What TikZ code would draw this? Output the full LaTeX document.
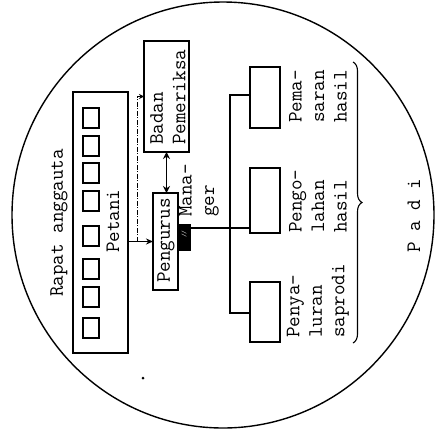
\documentclass[tikz,border=0pt]{standalone}
\usepackage{fontspec}
\usetikzlibrary{decorations.pathreplacing,arrows.meta}
\begin{document}
\begin{tikzpicture}[x=1pt,y=-1pt,
  box/.style={draw,line width=1.1pt,inner sep=0pt,outer sep=0pt},
  sq/.style={draw,line width=1.1pt,inner sep=0pt,outer sep=0pt,minimum width=16pt,minimum height=20pt},
  lbl/.style={rotate=90,anchor=west,inner sep=0pt,align=left,
    font=\ttfamily\addfontfeatures{FakeBold=3}\fontsize{20.5}{22.5}\selectfont},
  conn/.style={line width=1.1pt}
]
\useasboundingbox (0,0) rectangle (436,429);
% outer circle
\draw[line width=1.4pt] (223,215) ellipse [x radius=211, y radius=213];
% boxes
\node[box,minimum width=55pt,minimum height=261pt] (rapat) at (100.5,222.5) {};
\foreach \i/\yy in {1/118,2/146,3/173,4/201,5/236,6/269,7/297,8/328}
  \node[sq] (sq\i) at (91,\yy) {};
\node[box,minimum width=45pt,minimum height=111pt] (badan) at (166.5,96.5) {};
\node[box,minimum width=25pt,minimum height=97pt] (pengurus) at (165.5,241.5) {};
\node[box,fill=black,minimum width=12pt,minimum height=25pt] (mgr) at (184,237.5) {};
\node[text=white,inner sep=0pt,font=\tiny\bfseries,rotate=90] (mgrmark) at (184,234) {//};
\node[box,minimum width=30pt,minimum height=61pt] (pemasaran) at (265,97.5) {};
\node[box,minimum width=30pt,minimum height=65pt] (pengolahan) at (265,200.5) {};
\node[box,minimum width=30pt,minimum height=60pt] (penyaluran) at (265,312) {};
% labels
\node[lbl] (tRapat) at (59,297) {Rapat anggauta};
\node[lbl] (tPetani) at (113,253) {Petani};
\node[lbl] (tPengurus) at (166,283) {Pengurus};
\node[lbl] (tBadan) at (168,145) {Badan\\Pemeriksa};
\node[lbl] (tMgr) at (199,217) {Mana-\\ger};
\node[lbl] (tPema) at (318,123) {Pema-\\saran\\hasil};
\node[lbl] (tPengo) at (318,233) {Pengo-\\lahan\\hasil};
\node[lbl] (tPenya) at (318,338) {Penya-\\luran\\saprodi};
\node[lbl] (tPadi) at (414,253) {P a d i};
% connectors
\draw[conn,-{Stealth[length=7pt,width=6pt]}] (rapat.east |- pengurus.west) -- (pengurus.west);
\coordinate (j1) at (137,241.5);
\draw[line width=0.9pt,dash pattern=on 5pt off 1.5pt on 1pt off 1.5pt,-{Stealth[length=5pt,width=5pt]}]
  (j1) |- (badan.west);
\draw[line width=1.6pt,{Stealth[length=7pt,width=7pt]}-{Stealth[length=7pt,width=7pt]}]
  (badan.south) -- (badan.south |- pengurus.north);
\coordinate (m) at (190,228);
\draw[conn] (m) -- (m -| pengolahan.west);
\coordinate (bt) at (230,95);
\coordinate (bb) at (230,313);
\draw[conn] (pemasaran.west |- bt) -| (bb) -- (bb -| penyaluran.west);
% brace
\coordinate (br1) at (353,62);
\coordinate (br2) at (353,343);
\draw[line width=1.1pt,decorate,decoration={brace,amplitude=9pt}] (br1) -- (br2);
% dot
\fill (143,378) circle (1.5);
\end{tikzpicture}
\end{document}
